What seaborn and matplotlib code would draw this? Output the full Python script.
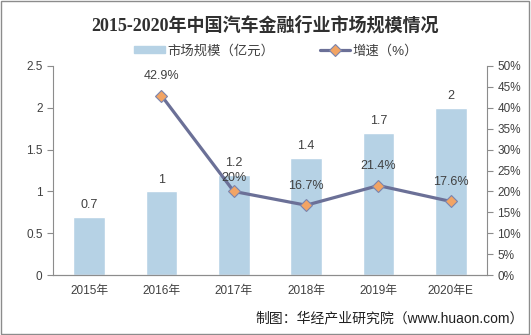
import matplotlib
matplotlib.use("Agg")
import matplotlib.pyplot as plt
import seaborn as sns
import pandas as pd
import numpy as np
from matplotlib.patches import Rectangle
from matplotlib.lines import Line2D
from matplotlib.ticker import FixedLocator

years = ["2015年", "2016年", "2017年", "2018年", "2019年", "2020年E"]
market_size = [0.7, 1.0, 1.2, 1.4, 1.7, 2.0]
market_labels = ["0.7", "1", "1.2", "1.4", "1.7", "2"]
growth_years = ["2016年", "2017年", "2018年", "2019年", "2020年E"]
growth = [42.9, 20.0, 16.7, 21.4, 17.6]
growth_labels = ["42.9%", "20%", "16.7%", "21.4%", "17.6%"]

# label offsets (points above the marker), styling only
growth_label_offsets = [14, 9.5, 14, 14, 14]

sns.set_style("white")
plt.rcParams['font.family'] = ['Liberation Sans', 'Noto Sans CJK SC', 'DejaVu Sans']

bar_color = "#B6D2E5"
line_color = "#6B7097"
marker_color = "#F2A464"
marker_edge = "#7A84AE"
txt = "#404040"

fig = plt.figure(figsize=(5.31, 3.35), dpi=100)
ax = fig.add_axes([0.0998, 0.179, 0.8172, 0.624])

df = pd.DataFrame({"year": years, "size": market_size})
sns.barplot(data=df, x="year", y="size", color=bar_color, width=0.44,
            saturation=1, ax=ax)
ax.set_ylim(0, 2.5)
ax.set_xlim(-0.5, 5.5)
ax.set_yticks([0, 0.5, 1, 1.5, 2, 2.5])
ax.set_yticklabels(["0", "0.5", "1", "1.5", "2", "2.5"])
ax.set_xlabel("")
ax.set_ylabel("")
for i, (v, lab) in enumerate(zip(market_size, market_labels)):
    ax.annotate(lab, (i, v), xytext=(0, 8.5), textcoords="offset points",
                ha="center", va="center", fontsize=9, color=txt)

ax2 = ax.twinx()
pos = [years.index(y) for y in growth_years]
gdf = pd.DataFrame({"x": pos, "g": growth})
sns.lineplot(data=gdf, x="x", y="g", ax=ax2, color=line_color, linewidth=2.3,
             marker="D", markersize=6.5, markerfacecolor=marker_color,
             markeredgecolor=marker_edge, markeredgewidth=0.8)
ax2.set_ylim(0, 50)
ax2.set_xlim(-0.5, 5.5)
ax2.set_yticks(range(0, 51, 5))
ax2.set_yticklabels([f"{v}%" for v in range(0, 51, 5)])
ax2.set_xlabel("")
ax2.set_ylabel("")
for p, v, lab, off in zip(pos, growth, growth_labels, growth_label_offsets):
    ax2.annotate(lab, (p, v), xytext=(0, off), textcoords="offset points",
                 ha="center", va="center", fontsize=9, color=txt)

spine_c = "#8C8C8C"
for a in (ax, ax2):
    for s in a.spines.values():
        s.set_color(spine_c)
        s.set_linewidth(0.8)
    a.spines["top"].set_visible(False)
    a.tick_params(axis="both", labelsize=8.5, colors=txt, length=4, width=0.8,
                  direction="out")
    a.tick_params(axis="both", color=spine_c)
ax.spines["left"].set_visible(True)
ax.spines["right"].set_visible(False)
ax2.spines["left"].set_visible(False)

ax.set_xticks(range(len(years)))
ax.set_xticklabels(years)
ax.tick_params(axis="x", length=0, pad=7)
ax.xaxis.set_minor_locator(FixedLocator(np.arange(-0.5, 6, 1)))
ax.tick_params(axis="x", which="minor", length=4, color=spine_c, width=0.8)

fig.text(0.5, 0.925, "2015-2020年中国汽车金融行业市场规模情况", ha="center",
         va="center", fontsize=13, fontweight="bold", color="#303030",
         family=['Liberation Serif', 'Noto Sans CJK SC'])

handles = [Rectangle((0, 0), 1, 1, color=bar_color),
           Line2D([0], [0], color=line_color, linewidth=2.3, marker="D",
                  markersize=6.5, markerfacecolor=marker_color,
                  markeredgecolor=marker_edge, markeredgewidth=0.8)]
leg = fig.legend(handles, ["市场规模（亿元）", "增速（%）"], loc="center",
                 bbox_to_anchor=(0.52, 0.848), ncol=2, frameon=False,
                 fontsize=9.6, handlelength=2.3, handleheight=0.4,
                 columnspacing=3.4, handletextpad=0.2)
for t in leg.get_texts():
    t.set_color(txt)

fig.text(0.987, 0.05, "制图：华经产业研究院（www.huaon.com）", ha="right",
         va="center", fontsize=10, color="#202020")

fig.add_artist(Rectangle((0.002, 0.003), 0.995, 0.993, transform=fig.transFigure,
                         fill=False, edgecolor="#8C8C8C", linewidth=1))

fig.savefig("out.png", dpi=100)
